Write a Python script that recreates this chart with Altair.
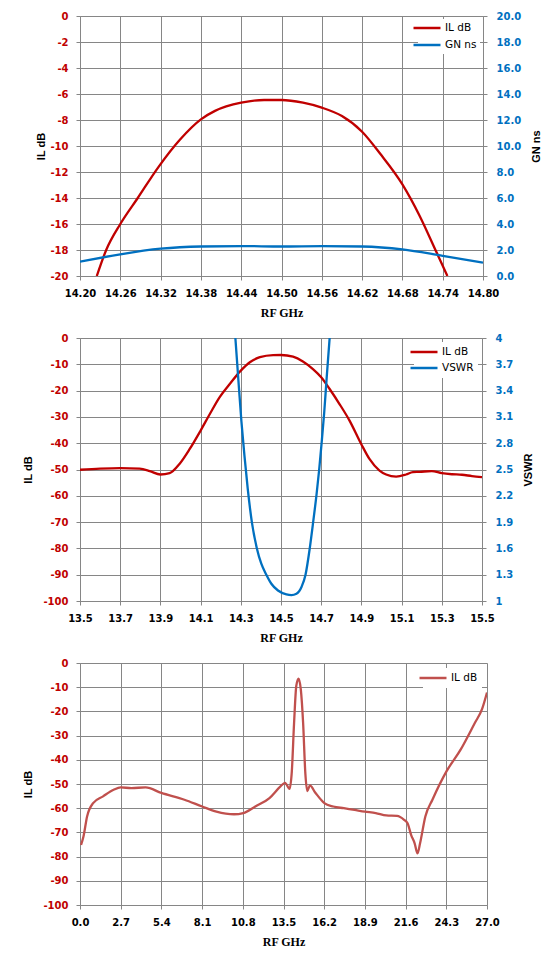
import altair as alt
import pandas as pd

RED = "#C00000"
BLUE = "#0070C0"
RED3 = "#C0504D"
GRID = "#868686"

# ---------------- Panel 1 data ----------------
p1_il_freq = [14.225, 14.239, 14.26, 14.286, 14.317, 14.349, 14.38, 14.401, 14.44, 14.474,
              14.50, 14.532, 14.56, 14.59, 14.62, 14.647, 14.68, 14.705, 14.731, 14.747]
p1_il_db = [-20.0, -18.0, -16.0, -14.0, -11.6, -9.5, -7.95, -7.3, -6.67, -6.46,
            -6.46, -6.67, -7.05, -7.7, -8.9, -10.6, -12.95, -15.3, -18.2, -20.0]
p1_gn_freq = [14.20, 14.26, 14.32, 14.38, 14.44, 14.50, 14.56, 14.62, 14.68, 14.74, 14.80]
p1_gn_ns = [1.1, 1.67, 2.1, 2.27, 2.3, 2.27, 2.3, 2.27, 2.05, 1.55, 1.03]
p1_x_ticks = [14.20, 14.26, 14.32, 14.38, 14.44, 14.50, 14.56, 14.62, 14.68, 14.74, 14.80]
p1_y_ticks = [-20, -18, -16, -14, -12, -10, -8, -6, -4, -2, 0]
p1_y2_ticks = [0, 2, 4, 6, 8, 10, 12, 14, 16, 18, 20]

# ---------------- Panel 2 data ----------------
p2_il_freq = [13.5, 13.6, 13.7, 13.797, 13.847, 13.9, 13.946, 13.996, 14.046, 14.1, 14.146,
              14.195, 14.245, 14.3, 14.345, 14.395, 14.461, 14.5, 14.56, 14.609, 14.659, 14.7,
              14.742, 14.791, 14.841, 14.899, 14.94, 14.99, 15.023, 15.073, 15.122, 15.156,
              15.189, 15.25, 15.3, 15.35, 15.4, 15.45, 15.5]
p2_il_db = [-50.1, -49.7, -49.5, -49.7, -50.6, -51.9, -51.4, -47.8, -42.2, -35.2, -28.9,
            -22.5, -17.5, -12.4, -9.2, -7.3, -6.5, -6.46, -7.1, -8.9, -11.8, -14.9,
            -19.4, -25.1, -31.4, -40.3, -46.0, -50.4, -51.9, -52.7, -51.9, -51.0,
            -50.9, -50.6, -51.4, -51.8, -52.0, -52.5, -52.9]
p2_vswr_freq = [14.273, 14.288, 14.303, 14.318, 14.335, 14.355, 14.38, 14.402, 14.427, 14.452,
                14.485, 14.527, 14.552, 14.577, 14.602, 14.622, 14.643, 14.66, 14.677, 14.69,
                14.702, 14.715, 14.728, 14.742]
p2_vswr = [4.0, 3.52, 3.05, 2.66, 2.27, 1.90, 1.60, 1.425, 1.30, 1.197,
           1.12, 1.076, 1.068, 1.083, 1.16, 1.30, 1.60, 1.90, 2.22, 2.50,
           2.80, 3.15, 3.57, 4.0]
p2_x_ticks = [13.5, 13.7, 13.9, 14.1, 14.3, 14.5, 14.7, 14.9, 15.1, 15.3, 15.5]
p2_y_ticks = [-100, -90, -80, -70, -60, -50, -40, -30, -20, -10, 0]
p2_y2_ticks = [1, 1.3, 1.6, 1.9, 2.2, 2.5, 2.8, 3.1, 3.4, 3.7, 4]

# ---------------- Panel 3 data ----------------
p3_freq = [0.07, 0.23, 0.47, 0.87, 1.53, 2.23, 2.7, 3.41, 4.35, 5.4, 6.93, 8.11, 9.05, 10.22,
           10.83, 11.63, 12.57, 13.3, 13.6, 13.9, 14.05, 14.2, 14.35, 14.5, 14.65, 14.8, 14.95,
           15.08, 15.25, 15.6, 16.21, 16.8, 17.5, 18.21, 18.91, 19.62, 20.32, 21.03, 21.5,
           21.73, 21.97, 22.2, 22.39, 22.56, 22.91, 23.38, 24.32, 25.26, 26.2, 26.67, 27.0]
p3_il_db = [-75.2, -71.7, -63.4, -57.9, -55.1, -52.4, -51.4, -51.7, -51.4, -53.7, -56.5, -59.3,
            -61.4, -62.5, -62.0, -59.3, -55.8, -51.0, -49.5, -52.0, -45.0, -25.0, -9.4, -6.5,
            -11.0, -24.6, -45.7, -52.9, -50.6, -53.5, -57.9, -59.3, -60.0, -60.7, -61.4, -62.0,
            -63.0, -63.2, -64.8, -66.2, -71.1, -74.5, -78.7, -74.5, -63.4, -56.5, -44.7, -35.7,
            -24.7, -19.1, -12.2]
p3_x_ticks = [0.0, 2.7, 5.4, 8.1, 10.8, 13.5, 16.2, 18.9, 21.6, 24.3, 27.0]
p3_y_ticks = [-100, -90, -80, -70, -60, -50, -40, -30, -20, -10, 0]

LABEL_FONT = "DejaVu Sans"
TITLE_FONT = "Liberation Sans"


def x_axis(values):
    return alt.Axis(values=values, format=".2f" if values[0] > 14 else ".1f",
                    title="RF GHz", grid=True, gridColor=GRID, domainColor=GRID,
                    tickColor=GRID, tickSize=4, labelPadding=8, labelFont=LABEL_FONT,
                    labelFontSize=10, labelFontWeight="bold", labelColor="black",
                    titleFont="Liberation Serif", titleFontSize=12, titleFontWeight="bold",
                    titleColor="black", titlePadding=9, labelFlush=False, labelOverlap=False)


def y_left(values, pad):
    return alt.Axis(values=values, labelExpr="'' + datum.value", title="IL dB",
                    orient="left", grid=True, gridColor=GRID, domainColor=GRID,
                    tickColor=GRID, tickSize=4, labelPadding=8, labelFont=LABEL_FONT,
                    labelFontSize=10, labelFontWeight="bold", labelColor=RED,
                    titleFont=TITLE_FONT, titleFontSize=11, titleFontWeight="bold",
                    titleColor="black", titlePadding=pad, labelFlush=False, labelOverlap=False)


def y_right(values, title, expr):
    return alt.Axis(values=values, labelExpr=expr, title=title, orient="right",
                    grid=False, domainColor=GRID, tickColor=GRID, tickSize=4,
                    labelPadding=9, labelFont=LABEL_FONT, labelFontSize=10,
                    labelFontWeight="bold", labelColor=BLUE, titleFont=TITLE_FONT,
                    titleFontSize=11, titleFontWeight="bold", titleColor="black",
                    titlePadding=21, titleAngle=270, labelFlush=False, labelOverlap=False)


def legend(off, pad, rowpad):
    return alt.Legend(title=None, orient="top-right", offset=off, padding=pad,
                      fillColor="white", symbolType="M-3,0L3,0", symbolSize=81,
                      symbolStrokeWidth=2.5, labelOffset=12, labelFont=LABEL_FONT,
                      labelFontSize=10.5, labelColor="black", rowPadding=rowpad)


# ---------------- Panel 1 ----------------
d1a = pd.DataFrame({"f": p1_il_freq, "v": p1_il_db, "s": "IL dB"})
d1b = pd.DataFrame({"f": p1_gn_freq, "v": p1_gn_ns, "s": "GN ns"})
col1 = alt.Color("s:N", scale=alt.Scale(domain=["IL dB", "GN ns"], range=[RED, BLUE]),
                 legend=legend(3, 3, 5))
x1 = alt.X("f:Q", scale=alt.Scale(domain=[14.2, 14.8], nice=False, zero=False),
           axis=x_axis(p1_x_ticks))
l1a = alt.Chart(d1a).mark_line(strokeWidth=2.3, interpolate="monotone", clip=True).encode(
    x=x1,
    y=alt.Y("v:Q", scale=alt.Scale(domain=[-20, 0], nice=False, zero=False),
            axis=y_left(p1_y_ticks, 3)),
    color=col1)
l1b = alt.Chart(d1b).mark_line(strokeWidth=2.3, interpolate="monotone", clip=True).encode(
    x=x1,
    y=alt.Y("v:Q", scale=alt.Scale(domain=[0, 20], nice=False, zero=False),
            axis=y_right(p1_y2_ticks, "GN ns", "format(datum.value, '.1f')")),
    color=col1)
panel1 = alt.layer(l1a, l1b).resolve_scale(y="independent").properties(width=403, height=260)

# ---------------- Panel 2 ----------------
d2a = pd.DataFrame({"f": p2_il_freq, "v": p2_il_db, "s": "IL dB"})
d2b = pd.DataFrame({"f": p2_vswr_freq, "v": p2_vswr, "s": "VSWR"})
col2 = alt.Color("s:N", scale=alt.Scale(domain=["IL dB", "VSWR"], range=[RED, BLUE]),
                 legend=legend(4, 4, 4))
x2 = alt.X("f:Q", scale=alt.Scale(domain=[13.5, 15.5], nice=False, zero=False),
           axis=x_axis(p2_x_ticks))
l2a = alt.Chart(d2a).mark_line(strokeWidth=2.3, interpolate="monotone", clip=True).encode(
    x=x2,
    y=alt.Y("v:Q", scale=alt.Scale(domain=[-100, 0], nice=False, zero=False),
            axis=y_left(p2_y_ticks, 9)),
    color=col2)
l2b = alt.Chart(d2b).mark_line(strokeWidth=2.3, interpolate="monotone", clip=True).encode(
    x=x2,
    y=alt.Y("v:Q", scale=alt.Scale(domain=[1, 4], nice=False, zero=False),
            axis=y_right(p2_y2_ticks, "VSWR", "'' + datum.value")),
    color=col2)
panel2 = alt.layer(l2a, l2b).resolve_scale(y="independent").properties(width=402, height=263)

# ---------------- Panel 3 ----------------
d3 = pd.DataFrame({"f": p3_freq, "v": p3_il_db, "s": "IL dB"})
panel3 = alt.Chart(d3).mark_line(strokeWidth=2.3, interpolate="monotone", clip=True).encode(
    x=alt.X("f:Q", scale=alt.Scale(domain=[0, 27], nice=False, zero=False),
            axis=x_axis(p3_x_ticks)),
    y=alt.Y("v:Q", scale=alt.Scale(domain=[-100, 0], nice=False, zero=False),
            axis=y_left(p3_y_ticks, 9)),
    color=alt.Color("s:N", scale=alt.Scale(domain=["IL dB"], range=[RED3]),
                    legend=legend(5, 4, 4)),
).properties(width=407, height=242)

chart = alt.vconcat(panel1, panel2, panel3, spacing=13).resolve_scale(
    color="independent", x="independent", y="independent"
).properties(
    padding={"left": 14, "top": 2, "right": 0, "bottom": 0}
).configure_view(stroke=GRID, strokeWidth=1).configure(background="white")

chart.save("out.html", embed_options={"renderer": "svg", "actions": False})
